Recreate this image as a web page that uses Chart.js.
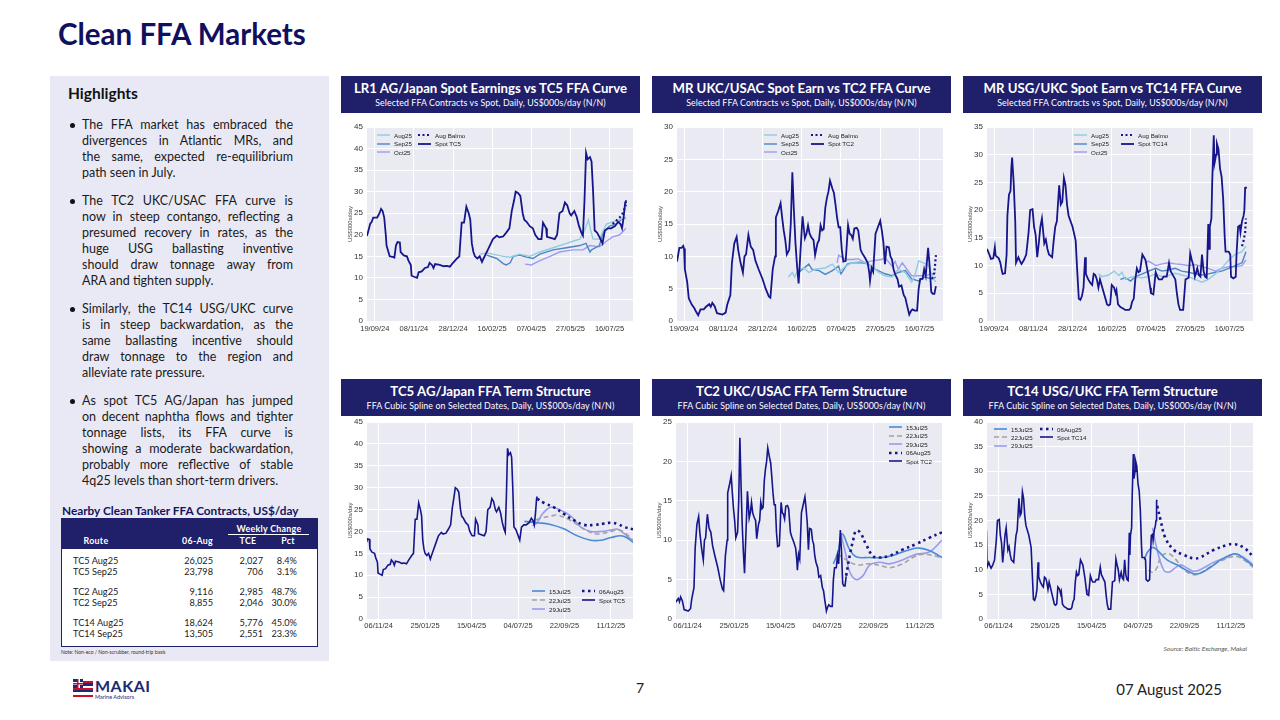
<!DOCTYPE html>
<html>
<head>
<meta charset="utf-8">
<script src="https://cdn.jsdelivr.net/npm/chart.js@4.4.1/dist/chart.umd.min.js"></script>
<style>
  body { margin: 0; width: 1280px; height: 720px; position: relative; background: #fff; font-family: Lato, sans-serif; overflow: hidden; }
  .abs { position: absolute; }
  #title { left: 58px; top: 16px; font-size: 29.5px; font-weight: bold; color: #10105e; }
  #side { left: 50px; top: 76px; width: 279px; height: 585px; background: #e9e9f5; }
  #hl { left: 68px; top: 84px; font-size: 15.5px; font-weight: bold; color: #111; }
  .para { position: absolute; left: 82px; width: 211px; font-size: 12.5px; line-height: 16px; color: #1a1a1a; }
  .ln { white-space: nowrap; }
  .dot { position: absolute; width: 5px; height: 5px; border-radius: 50%; background: #111; }
  .hdr { position: absolute; width: 299px; height: 37px; background: #20206a; color: #fff; text-align: center; }
  .ht { font-weight: bold; font-size: 13.2px; line-height: 14px; margin-top: 5px; }
  .hs { font-size: 8.8px; line-height: 9px; margin-top: 3px; letter-spacing: 0.1px; }
  canvas { position: absolute; }
  .legend { position: absolute; }
  .lgItem { position: absolute; height: 8px; display: flex; align-items: center; white-space: nowrap; font: 6.2px 'Liberation Sans', Arial, sans-serif; color: #222; }
  .lgItem svg { margin-right: 4px; }
  #tblTitle { left: 62px; top: 503px; font-size: 11.8px; font-weight: bold; color: #14145e; }
  #tbl { left: 61px; top: 518px; width: 255px; height: 127px; border: 1px solid #20206a; background: #fff; }
  #tblHead { left: 0; top: 0; width: 255px; height: 30px; background: #20206a; }
  .th { position: absolute; color: #fff; font-size: 8.8px; font-weight: bold; letter-spacing: 0.3px; }
  .td { position: absolute; font-size: 9.2px; color: #1a1a1a; white-space: nowrap; }
  #note { left: 61px; top: 649px; font-size: 5px; color: #333; }
  #source { left: 1100px; width: 147px; text-align: right; top: 645px; font-size: 6.5px; font-style: italic; color: #555; }
  #flag { left: 73px; top: 679px; width: 20px; height: 18px;
    background: linear-gradient(#fff 0 12.5%, #c8102e 12.5% 25%, #1d2a7a 25% 37.5%, #fff 37.5% 50%, #c8102e 50% 62.5%, #1d2a7a 62.5% 75%, #fff 75% 87.5%, #c8102e 87.5% 100%); }
  #canton { left: 0; top: 0; width: 10px; height: 9px;
    background: linear-gradient(#c8102e, #c8102e) center / 10px 1.5px no-repeat, linear-gradient(#c8102e, #c8102e) center / 1.5px 9px no-repeat,
                linear-gradient(#fff, #fff) center / 10px 3px no-repeat, linear-gradient(#fff, #fff) center / 3px 9px no-repeat, #1d2a7a; }
  #makai { left: 95px; top: 676px; font-size: 16px; font-weight: bold; color: #1d2a6e; letter-spacing: 0.5px; }
  #advisors { left: 95px; top: 694px; font-size: 5.5px; color: #1d2a6e; }
  #page { left: 636px; top: 679px; font-size: 14px; color: #222; }
  #date { left: 1100px; width: 122px; text-align: right; top: 680px; font-size: 15px; color: #222; }
</style>
</head>
<body>
<div id="title" class="abs">Clean FFA Markets</div>
<div id="side" class="abs"></div>
<div id="hl" class="abs">Highlights</div>

<div class="hdr" style="left:341px;top:76px"><div class="ht">LR1 AG/Japan Spot Earnings vs TC5 FFA Curve</div><div class="hs">Selected FFA Contracts vs Spot, Daily, US$000s/day (N/N)</div></div>
<div class="hdr" style="left:652px;top:76px"><div class="ht">MR UKC/USAC Spot Earn vs TC2 FFA Curve</div><div class="hs">Selected FFA Contracts vs Spot, Daily, US$000s/day (N/N)</div></div>
<div class="hdr" style="left:963px;top:76px"><div class="ht">MR USG/UKC Spot Earn vs TC14 FFA Curve</div><div class="hs">Selected FFA Contracts vs Spot, Daily, US$000s/day (N/N)</div></div>
<div class="hdr" style="left:341px;top:379px"><div class="ht">TC5 AG/Japan FFA Term Structure</div><div class="hs">FFA Cubic Spline on Selected Dates, Daily, US$000s/day (N/N)</div></div>
<div class="hdr" style="left:652px;top:379px"><div class="ht">TC2 UKC/USAC FFA Term Structure</div><div class="hs">FFA Cubic Spline on Selected Dates, Daily, US$000s/day (N/N)</div></div>
<div class="hdr" style="left:963px;top:379px"><div class="ht">TC14 USG/UKC FFA Term Structure</div><div class="hs">FFA Cubic Spline on Selected Dates, Daily, US$000s/day (N/N)</div></div>

<canvas id="c1" width="300" height="218" style="left:341px;top:118px"></canvas>
<canvas id="c2" width="300" height="218" style="left:651px;top:118px"></canvas>
<canvas id="c3" width="300" height="218" style="left:961px;top:118px"></canvas>
<canvas id="c4" width="300" height="220" style="left:341px;top:412px"></canvas>
<canvas id="c5" width="300" height="220" style="left:650px;top:412px"></canvas>
<canvas id="c6" width="300" height="220" style="left:961px;top:412px"></canvas>

<div id="tblTitle" class="abs">Nearby Clean Tanker FFA Contracts, US$/day</div>
<div id="tbl" class="abs"><div id="tblHead" class="abs"></div></div>
<div id="note" class="abs">Note: Non-eco / Non-scrubber, round-trip basis</div>
<div id="source" class="abs">Source: Baltic Exchange, Makai</div>

<div id="flag" class="abs"><div id="canton" class="abs"></div></div>
<div id="makai" class="abs">MAKAI</div>
<div id="advisors" class="abs">Marine Advisors</div>
<div id="page" class="abs">7</div>
<div id="date" class="abs">07 August 2025</div>

<script>
// x values are days counted from 19/09/24
const topTickDays = [0, 50, 100, 150, 200, 250, 300];
const topTickLabels = ["19/09/24", "08/11/24", "28/12/24", "16/02/25", "07/04/25", "27/05/25", "16/07/25"];
const termTickDays = [48, 128, 208, 288, 368, 448];
const termTickLabels = ["06/11/24", "25/01/25", "15/04/25", "04/07/25", "22/09/25", "11/12/25"];

// TC5 AG/Japan
const tc5Spot = [[-10,19.7],[-6,22.5],[-4,23],[-2,24],[3,24],[6,25],[8,26],[10,25.5],[12,24],[14,20],[15,17.5],[19,15],[24,14.8],[25,14.7],[27,17.5],[29,18.3],[32,18.2],[33,16],[37,15.2],[41,15],[43,14],[46,13],[47,10.5],[51,10.2],[54,10],[56,11.3],[60,11.5],[64,12.3],[68,12.5],[70,13.5],[73,13],[75,12.3],[77,13.2],[83,13],[88,12.7],[92,12.8],[96,12.6],[100,13.5],[105,14.5],[108,15],[111,22.8],[114,22.8],[117,26.5],[120,25],[122,23.5],[124,18],[126,16],[128,15],[131,14.5],[134,15],[137,13.7],[139,14.5],[143,16],[147,17.5],[151,19],[156,19.8],[159,19.4],[164,19.6],[168,20.5],[172,21.5],[175,25.5],[178,28],[180,30],[183,29.7],[186,29],[189,25],[191,23.5],[194,23],[198,22],[202,21.5],[205,20],[209,19],[213,19],[215,22.8],[219,21.5],[220,19.5],[226,19.2],[230,19],[233,20],[236,25],[240,25.5],[243,27.5],[246,26.8],[249,25],[251,24.5],[255,25.5],[258,24.2],[261,22],[264,20.5],[266,19.8],[268,28],[270,39],[272,37.5],[275,38],[277,37],[279,30],[281,21],[284,20.5],[287,19.5],[291,18],[294,21],[298,21.5],[302,21.5],[307,22],[311,23],[314,22.5],[316,21.5],[318,24],[320,27.5],[321,28]];
const tc5Aug = [[134,15.5],[143,15.8],[151,15.5],[164,15],[173,14.8],[185,15.5],[198,15],[211,16],[228,17],[245,18],[253,18.5],[262,19],[268,21],[273,23.5],[276,21],[279,19],[287,19],[292,21],[296,22.5],[304,23],[313,23.5],[321,24]];
const tc5Sep = [[143,15.3],[156,14.5],[164,13.3],[168,13],[173,13.5],[177,15],[185,15.3],[194,14.8],[202,14.5],[211,15.5],[228,16.5],[245,17],[262,17.5],[270,18],[275,16],[277,16.5],[287,17.5],[292,20.5],[300,22],[309,22.5],[315,23.5],[321,24]];
const tc5Oct = [[192,13.2],[200,13],[211,14],[224,15],[236,16],[253,16.5],[266,16.5],[275,17.5],[287,17.2],[296,18.5],[304,19.5],[313,20],[321,21.5]];
const tc5Balmo = [[304,22.5],[313,24],[317,25],[321,27]];

// TC2 UKC/USAC
const tc2Spot = [[-9,9.2],[-6,11.3],[-3,11.3],[-1,11.6],[0,11.2],[1,8],[4,6],[6,3.5],[10,2.5],[13,2],[15,1.5],[18,0.9],[21,1.8],[25,1.8],[28,2.2],[32,2.6],[34,2.2],[36,2.8],[39,2.3],[42,1.2],[49,1.0],[53,1.3],[55,2.5],[59,4],[61,9],[64,12],[67,13],[69,11],[72,9],[75,7.5],[77,10],[79,10.3],[82,13.3],[85,11.5],[88,11],[91,9.3],[95,8],[100,6.5],[104,5],[108,3.8],[110,3.6],[113,8],[116,10],[117,16],[120,17],[123,18.2],[125,16],[127,14],[129,12.5],[131,10.3],[134,11],[136,15],[138,23],[140,17],[142,12],[144,8.5],[146,5.8],[148,10],[151,16.2],[154,12.8],[156,13.5],[158,14.8],[160,13.5],[162,13],[165,12.5],[167,10.2],[170,12],[172,12.5],[174,14.8],[176,14],[178,14.2],[180,17.5],[182,19],[184,20],[186,21.7],[189,20.5],[191,19.8],[193,18],[195,16],[197,14.5],[199,14.5],[201,11],[203,9.2],[206,9.3],[209,14.8],[211,13.5],[213,13.3],[215,12.7],[217,14.3],[220,14.4],[222,14],[225,11],[227,10.5],[231,9.7],[234,9],[236,7.5],[237,6.2],[239,8.2],[241,7.6],[244,13.5],[247,14.5],[250,15.5],[252,14],[254,12.2],[256,8.8],[258,11.5],[261,11.4],[263,10],[265,9.5],[267,8],[269,7.2],[272,6.5],[274,5.3],[277,5.5],[280,4],[282,3.6],[284,2.5],[287,1],[289,1.5],[291,1.8],[294,1.6],[297,1.6],[299,5],[301,6.5],[304,6.5],[306,8],[308,7],[309,8.5],[311,11.3],[313,8.5],[315,4.5],[317,4.2],[319,4.2],[321,5.4]];
const tc2Aug = [[133,6.8],[138,7.5],[141,6.8],[146,8],[153,8.2],[159,7.5],[167,8],[180,8.2],[189,8.8],[197,7.5],[206,8.5],[214,9],[227,9.2],[239,8.5],[248,7.5],[256,7],[265,6.8],[273,8],[282,7.5],[290,6],[294,7],[299,9.3],[305,9],[311,8.7],[318,6.5],[321,6]];
const tc2Sep = [[146,7.5],[159,8.8],[163,8],[172,7.8],[180,7.2],[189,7.8],[197,8.5],[200,7.3],[208,8.8],[214,9],[227,9],[235,8.8],[244,8],[256,7.3],[265,7],[273,7.5],[282,7.8],[290,6.5],[299,6.2],[307,6.8],[316,6.5],[321,6.8]];
const tc2Oct = [[195,9],[197,10.2],[206,9.5],[214,9.5],[222,9.6],[231,9],[239,9.3],[252,9.5],[256,9.8],[265,8.5],[269,9.2],[273,8],[278,9],[284,8],[290,7],[299,7],[307,7],[316,7.3],[321,7.5]];
const tc2Balmo = [[316,6.5],[319,7.5],[321,10.2]];

// TC14 USG/UKC
const tc14Spot = [[-9,13],[-6,12],[-4,11.2],[-1,11.3],[1,13.3],[2,11.8],[6,11.3],[8,10.5],[10,9],[11,8.5],[14,8.6],[16,12],[17,19],[19,22.8],[21,23.5],[22,27.5],[23,29.5],[25,25],[27,18],[28,10.5],[31,11.5],[33,10.8],[35,10.3],[38,11],[41,12],[44,16],[46,20],[49,20.2],[51,17],[53,15.5],[55,11.5],[57,14],[59,17],[61,18.5],[64,14],[66,14.7],[68,13],[70,12],[74,11.5],[76,14.5],[78,17],[80,18],[83,24.5],[85,21],[87,21.5],[89,25.8],[91,24.5],[93,21],[95,19],[100,17],[104,14.5],[106,9],[108,4],[110,3.8],[112,4.5],[114,6],[116,11.5],[117,8.5],[120,7.5],[123,6.8],[125,6.5],[127,8.5],[129,8.3],[131,7.5],[133,6],[135,7.5],[137,6.5],[140,5],[142,4],[144,3],[146,2.8],[148,3],[150,6.5],[153,6],[155,5],[156,5.5],[158,3],[161,2.5],[165,2.2],[167,2],[172,2],[174,2.3],[176,3.5],[178,4],[180,7.5],[182,9.5],[184,8.8],[186,9],[189,12],[191,11.5],[193,11],[195,9.5],[197,8],[199,6],[200,5],[203,4.8],[206,8.8],[208,8],[210,7.5],[214,7.5],[216,8],[220,8],[223,10.5],[225,9],[227,8.5],[231,7.5],[233,5],[235,3],[237,2],[241,2],[244,7.5],[248,7.8],[250,12.2],[252,11],[254,10],[256,8],[259,9.5],[261,8.3],[263,8],[265,12],[267,9],[269,8],[271,7.8],[273,17.5],[274,13],[275,17],[277,18.5],[278,25],[280,33.5],[281,28.5],[283,30],[284,32],[286,31],[288,27.5],[290,26],[292,22],[294,15],[295,12.5],[299,12.5],[301,12],[302,8],[305,7.7],[308,8],[309,12],[311,17],[313,17.2],[314,16],[316,18],[318,19],[319,20],[320,24],[321,24.2]];
const tc14Aug = [[133,8.5],[138,8],[146,8.3],[153,9],[159,8.2],[163,8.8],[167,7.5],[176,8],[189,7.8],[197,8],[206,8.5],[214,8],[222,8.2],[231,8.6],[239,8.3],[248,8],[256,7.5],[265,7],[273,7.5],[282,8.5],[290,9.5],[299,11],[307,12],[316,12.5],[321,13.5]];
const tc14Sep = [[161,7.5],[167,7.8],[174,7.2],[180,8],[189,8.5],[197,9],[206,9.5],[214,9],[222,9.2],[231,9.5],[239,9],[248,8.8],[256,8.5],[265,8.3],[273,8.5],[282,8.8],[290,9],[299,9.5],[307,10],[316,10.5],[321,12.5]];
const tc14Oct = [[193,10.5],[197,10.8],[206,10],[214,10.3],[222,10.5],[231,10.3],[239,10.2],[248,10],[256,10.2],[265,9.8],[273,9.5],[282,9],[290,9.5],[299,9.8],[307,9.8],[316,10],[321,11]];
const tc14Balmo = [[316,13.5],[318,14.5],[320,16],[321,18.5]];

// FFA curves (cubic spline) on selected dates
const tc5Curve15Jul = [[299,22.3],[321,22],[344,21.6],[367,20.6],[390,19],[413,18],[431,18],[448,18.6],[465,19],[475,18.6],[486,17.5]];
const tc5Curve22Jul = [[306,22],[327,23],[344,23.5],[356,23.7],[379,22.5],[402,20.5],[419,19.5],[431,19.5],[448,20],[460,20.3],[471,19.8],[486,18]];
const tc5Curve29Jul = [[313,21.3],[321,22],[330,24],[344,25.5],[359,25],[379,23.5],[396,21],[413,20],[431,20],[448,20.3],[460,20.5],[471,19.5],[486,17.8]];
const tc5Curve06Aug = [[321,27.5],[333,26.5],[350,25.5],[367,24],[385,22.5],[402,21.5],[419,21.5],[436,21.8],[448,22],[460,21.7],[471,21],[486,20.5]];

const tc2Curve15Jul = [[299,7],[307,8.5],[314,10.8],[327,8.8],[338,7.9],[361,7.8],[384,7.8],[407,8.2],[430,8.8],[447,9],[464,8.7],[486,7.8]];
const tc2Curve22Jul = [[306,8.3],[315,7.8],[338,6.9],[361,7],[384,6.7],[395,6.5],[418,7],[441,8],[458,8.2],[486,7.8]];
const tc2Curve29Jul = [[313,10.5],[321,8],[327,6],[338,5],[350,5.5],[361,6.8],[378,7.2],[395,7],[418,7.5],[441,8.2],[464,8.5],[486,10]];
const tc2Curve06Aug = [[321,5.5],[327,8],[333,10],[338,11.2],[345,11],[355,9.5],[367,8],[378,7.8],[395,8],[418,8.8],[441,9.5],[464,10.3],[486,11]];

const tc14Curve15Jul = [[299,12],[304,13.5],[313,14.5],[321,14],[338,12],[355,11],[373,9.8],[384,9.2],[395,9.3],[413,10.5],[430,12],[447,13],[458,13.2],[470,12.3],[486,10.8]];
const tc14Curve22Jul = [[306,10],[313,9.5],[321,10.5],[327,12.5],[338,13.3],[350,12.5],[367,10],[384,9],[395,9.3],[418,11],[441,12.3],[458,12.7],[470,12],[486,10.5]];
const tc14Curve29Jul = [[313,18.5],[321,14],[332,10],[341,9.5],[350,10.2],[361,11],[373,10.3],[384,9.7],[395,10],[418,11.5],[441,12.5],[453,13.2],[470,12.5],[486,11]];
const tc14Curve06Aug = [[321,23],[327,20],[335,16.5],[350,14],[367,13],[384,12.3],[395,12.5],[418,14],[441,15],[453,15.2],[470,14.5],[486,12.7]];

// table
const ffaRoutes = ["TC5 Aug25", "TC5 Sep25", "TC2 Aug25", "TC2 Sep25", "TC14 Aug25", "TC14 Sep25"];
const ffaRates = [26025, 23798, 9116, 8855, 18624, 13505];
const ffaTce = [2027, 706, 2985, 2046, 5776, 2551];
const ffaPct = [8.4, 3.1, 48.7, 30.0, 45.0, 23.3];

const highlights = [
  ["The FFA market has embraced the", "divergences in Atlantic MRs, and", "the same, expected re-equilibrium", "path seen in July."],
  ["The TC2 UKC/USAC FFA curve is", "now in steep contango, reflecting a", "presumed recovery in rates, as the", "huge USG ballasting inventive", "should draw tonnage away from", "ARA and tighten supply."],
  ["Similarly, the TC14 USG/UKC curve", "is in steep backwardation, as the", "same ballasting incentive should", "draw tonnage to the region and", "alleviate rate pressure."],
  ["As spot TC5 AG/Japan has jumped", "on decent naphtha flows and tighter", "tonnage lists, its FFA curve is", "showing a moderate backwardation,", "probably more reflective of stable", "4q25 levels than short-term drivers."]
];
const paraTops = [117, 193, 301, 393];

// colours
const cSpot = "#16168c";
const cAug = "#8fcce3";
const cSep = "#4d86c4";
const cOct = "#9d9df0";
const c15 = "#4a8bd4";
const c22 = "#a3a3a3";
const c29 = "#9a9aef";

Chart.defaults.font.family = "'Liberation Sans', Arial, sans-serif";
Chart.defaults.color = "#333";

const bgPlugin = {
  id: "plotBg",
  beforeDraw(chart) {
    const { ctx, chartArea: a } = chart;
    ctx.save();
    ctx.fillStyle = "#eaeaf2";
    ctx.fillRect(a.left, a.top, a.right - a.left, a.bottom - a.top);
    ctx.restore();
  }
};

function line(label, data, colour, width, dash, smooth) {
  return {
    label: label,
    data: data.map(p => ({ x: p[0], y: p[1] })),
    borderColor: colour,
    borderWidth: width,
    borderDash: dash || [],
    tension: smooth ? 0.4 : 0,
    pointRadius: 0,
    fill: false
  };
}

function makeChart(id, datasets, o) {
  new Chart(document.getElementById(id), {
    type: "line",
    data: { datasets: datasets },
    options: {
      responsive: false,
      animation: false,
      layout: { padding: { top: o.padTop, right: 8, left: 0, bottom: 0 } },
      plugins: { legend: { display: false }, tooltip: { enabled: false } },
      scales: {
        x: {
          type: "linear",
          min: o.xMin,
          max: o.xMax,
          afterBuildTicks: s => { s.ticks = o.tickDays.map(v => ({ value: v })); },
          afterFit: s => { s.height = o.xHeight; },
          ticks: {
            autoSkip: false, maxRotation: 0, padding: o.xPad,
            font: { size: 7.5 },
            callback: (v, i) => o.tickLabels[i]
          },
          grid: { color: "#fff", lineWidth: 1, drawTicks: false },
          border: { display: false }
        },
        y: {
          min: 0,
          max: o.yMax,
          afterFit: s => { s.width = 26; },
          ticks: { stepSize: 5, padding: 4, font: { size: 8 } },
          title: { display: true, text: "US$000s/day", font: { size: 6 }, color: "#444", padding: { top: 6, bottom: 0 } },
          grid: { color: "#fff", lineWidth: 1, drawTicks: false },
          border: { display: false }
        }
      }
    },
    plugins: [bgPlugin]
  });
}

function addLegend(left, top, colGap, rowH, columns) {
  const box = document.createElement("div");
  box.className = "legend";
  box.style.left = left + "px";
  box.style.top = top + "px";
  columns.forEach((col, ci) => {
    col.forEach((ds, ri) => {
      const item = document.createElement("div");
      item.className = "lgItem";
      item.style.left = (ci * colGap) + "px";
      item.style.top = (ri * rowH) + "px";
      const dash = ds.borderDash.length ? ds.borderDash.join(",") : "none";
      item.innerHTML = `<svg width="13" height="6"><line x1="0" y1="3" x2="13" y2="3" stroke="${ds.borderColor}" stroke-width="${ds.borderWidth}" stroke-dasharray="${dash}"/></svg>`;
      const tx = document.createElement("span");
      tx.textContent = ds.label;
      item.appendChild(tx);
      box.appendChild(item);
    });
  });
  document.body.appendChild(box);
}

const yMaxes = { c1: 45, c2: 30, c3: 35, c4: 45, c5: 25, c6: 40 };

function topChart(id, spot, spotName, aug, sep, oct, balmo, xMin, lgLeft, lgGap) {
  const sets = [
    line("Aug Balmo", balmo, cSpot, 2.2, [2, 2.5]),
    line(spotName, spot, cSpot, 1.8),
    line("Aug25", aug, cAug, 1.4),
    line("Sep25", sep, cSep, 1.4),
    line("Oct25", oct, cOct, 1.4)
  ];
  makeChart(id, sets, { padTop: 9, xHeight: 15, xPad: 3, xMin: xMin, xMax: 330, yMax: yMaxes[id], tickDays: topTickDays, tickLabels: topTickLabels });
  addLegend(lgLeft, 131, lgGap, 8.5, [[sets[2], sets[3], sets[4]], [sets[0], sets[1]]]);
}

function termChart(id, spot, spotName, d15, d22, d29, d06) {
  const sets = [
    line("06Aug25", d06, cSpot, 2.6, [2.5, 3.5], true),
    line(spotName, spot, cSpot, 1.6),
    line("15Jul25", d15, c15, 1.6, null, true),
    line("22Jul25", d22, c22, 1.6, [5, 3], true),
    line("29Jul25", d29, c29, 1.6, null, true)
  ];
  makeChart(id, sets, { padTop: 10, xHeight: 13, xPad: 2, xMin: 28, xMax: 486, yMax: yMaxes[id], tickDays: termTickDays, tickLabels: termTickLabels });
  return sets;
}

topChart("c1", tc5Spot, "Spot TC5", tc5Aug, tc5Sep, tc5Oct, tc5Balmo, -10, 377, 41);
topChart("c2", tc2Spot, "Spot TC2", tc2Aug, tc2Sep, tc2Oct, tc2Balmo, -9, 764, 47);
topChart("c3", tc14Spot, "Spot TC14", tc14Aug, tc14Sep, tc14Oct, tc14Balmo, -9, 1074, 47);

const s4 = termChart("c4", tc5Spot, "Spot TC5", tc5Curve15Jul, tc5Curve22Jul, tc5Curve29Jul, tc5Curve06Aug);
addLegend(532, 587, 50, 9, [[s4[2], s4[3], s4[4]], [s4[0], s4[1]]]);
const s5 = termChart("c5", tc2Spot, "Spot TC2", tc2Curve15Jul, tc2Curve22Jul, tc2Curve29Jul, tc2Curve06Aug);
addLegend(889, 423, 0, 8.5, [[s5[2], s5[3], s5[4], s5[0], s5[1]]]);
const s6 = termChart("c6", tc14Spot, "Spot TC14", tc14Curve15Jul, tc14Curve22Jul, tc14Curve29Jul, tc14Curve06Aug);
addLegend(994, 425, 46, 8.3, [[s6[2], s6[3], s6[4]], [s6[0], s6[1]]]);

// Highlights text, justified line by line
highlights.forEach((lines, pi) => {
  const p = document.createElement("div");
  p.className = "para";
  p.style.top = paraTops[pi] + "px";
  lines.forEach(t => {
    const d = document.createElement("div");
    d.className = "ln";
    const sp = document.createElement("span");
    sp.textContent = t;
    d.appendChild(sp);
    p.appendChild(d);
  });
  document.body.appendChild(p);
  const dot = document.createElement("div");
  dot.className = "dot";
  dot.style.left = "70px";
  dot.style.top = (paraTops[pi] + 5.5) + "px";
  document.body.appendChild(dot);
  p.querySelectorAll("span").forEach((sp, li) => {
    const w = sp.getBoundingClientRect().width;
    const spaces = (sp.textContent.match(/ /g) || []).length;
    const last = li === lines.length - 1;
    if ((!last || w > 211) && spaces > 0) {
      sp.style.wordSpacing = ((211 - w) / spaces) + "px";
    }
  });
});

// Table
const tbl = document.getElementById("tbl");
function cell(parent, cls, text, x, y, align) {
  const d = document.createElement("div");
  d.className = cls;
  d.textContent = text;
  d.style.top = y + "px";
  if (align === "right") { d.style.right = (255 - x) + "px"; }
  else if (align === "center") { d.style.left = (x - 40) + "px"; d.style.width = "80px"; d.style.textAlign = "center"; }
  else { d.style.left = x + "px"; }
  parent.appendChild(d);
}
const head = document.getElementById("tblHead");
cell(head, "th", "Weekly Change", 207, 4, "center");
const rule = document.createElement("div");
rule.style.cssText = "position:absolute;left:166px;top:15px;width:81px;height:1px;background:#fff";
head.appendChild(rule);
cell(head, "th", "Route", 34, 16, "center");
cell(head, "th", "06-Aug", 151, 16, "right");
cell(head, "th", "TCE", 186, 16, "center");
cell(head, "th", "Pct", 226, 16, "center");
ffaRoutes.forEach((r, i) => {
  const y = 36 + Math.floor(i / 2) * 31 + (i % 2) * 10.5;
  cell(tbl, "td", r, 11, y, "left");
  cell(tbl, "td", ffaRates[i].toLocaleString("en-US"), 151, y, "right");
  cell(tbl, "td", ffaTce[i].toLocaleString("en-US"), 201, y, "right");
  cell(tbl, "td", ffaPct[i].toFixed(1) + "%", 235, y, "right");
});
</script>
</body>
</html>
